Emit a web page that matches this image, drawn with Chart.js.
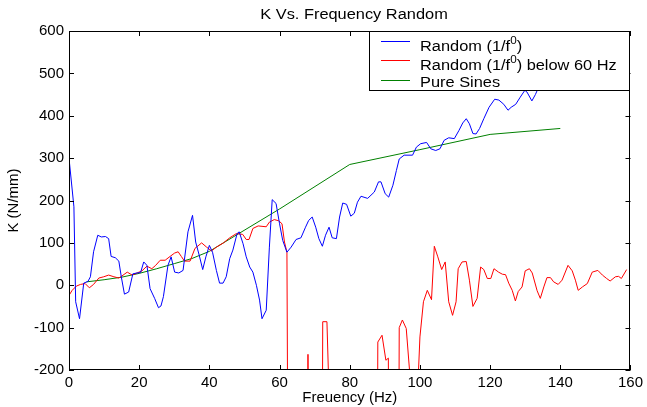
<!DOCTYPE html>
<html>
<head>
<meta charset="utf-8">
<script src="https://cdn.jsdelivr.net/npm/chart.js@4"></script>
<style>
  html, body { margin: 0; padding: 0; background: #fff; }
</style>
</head>
<body>
<canvas id="graficoK" width="647" height="407"></canvas>
<script>
// dati (Hz, N/mm)
const blueHz = [0, 1.4, 1.9, 3.0, 4.2, 5.4, 6.1, 7.0, 8.2, 9.2,
  10.4, 11.3, 12.0, 13.2, 14.2, 14.9, 15.8, 17.0, 18.2, 19.4,
  20.4, 21.3, 22.2, 23.1, 24.4, 25.5, 26.2, 26.9, 28.2, 29.1,
  30.1, 31.3, 32.5, 33.9, 35.2, 36.1, 37.1, 38.1, 39.0, 40.0,
  40.9, 42.0, 42.9, 43.9, 44.8, 45.8, 46.7, 47.9, 48.5, 49.6,
  50.5, 51.5, 52.4, 53.4, 54.3, 55.0, 56.2, 57.1, 57.9, 59.0,
  60.0, 60.9, 62.1, 63.3, 64.7, 66.1, 67.4, 68.3, 69.3, 70.3,
  71.2, 72.2, 73.1, 74.1, 75.0, 76.2, 77.1, 78.0, 79.1, 80.3,
  81.3, 82.2, 83.2, 85.1, 87.0, 88.2, 88.9, 90.1, 91.1, 92.3,
  93.3, 94.1, 95.5, 97.9, 99.0, 100.2, 101.9, 103.1, 104.5, 105.7,
  106.9, 108.2, 109.8, 111.1, 112.2, 113.2, 114.1, 115.1, 116.0, 117.0,
  118.2, 119.7, 121.3, 122.5, 123.9, 125.1, 126.0, 127.3, 128.6, 129.9,
  130.5, 131.9, 132.9, 133.7, 134.6];
const blueK = [300, 185, -39, -79, 5, 9, 20, 79, 118, 114,
  115, 110, 68, 65, 57, 20, -21, -16, 27, 29,
  30, 55, 47, -8, -31, -53, -49, -27, 47, 67,
  31, 29, 35, 126, 165, 102, 71, 37, 67, 94,
  78, 35, 5, 5, 20, 63, 83, 122, 126, 98,
  67, 43, 31, 0, -35, -79, -59, 90, 202, 193,
  145, 106, 78, 90, 108, 112, 137, 153, 161, 137,
  110, 92, 118, 137, 112, 110, 161, 194, 191, 163,
  170, 196, 210, 205, 220, 244, 244, 216, 208, 236,
  271, 298, 307, 307, 326, 334, 337, 322, 318, 322,
  342, 348, 346, 365, 383, 393, 381, 358, 357, 370,
  393, 420, 439, 437, 427, 413, 420, 427, 444, 460,
  456, 435, 450, 465, 485];

const redHz = [0, 0.9, 2.1, 3.3, 4.6, 5.8, 7.0, 8.5, 9.9, 11.3,
  12.8, 14.2, 15.1, 16.6, 18.0, 19.4, 20.8, 22.2, 23.6, 24.7,
  26.0, 27.4, 28.8, 30.1, 31.1, 32.0, 32.9, 34.5, 35.9, 37.8,
  39.2, 40.6, 42.0, 44.0, 45.8, 47.7, 49.5, 50.5, 51.3, 52.4,
  53.9, 56.2, 57.1, 58.5, 59.8, 60.7, 61.4, 62.1, 62.8, 67.9,
  68.1, 68.3, 71.9, 72.3, 73.5, 74.6, 87.5, 88.0, 89.2, 90.3,
  91.0, 91.5, 93.7, 94.1, 95.0, 96.1, 97.6, 98.2, 98.6, 99.3,
  100.0, 101.0, 102.1, 103.3, 104.1, 105.1, 106.2, 107.2, 108.2, 109.3,
  110.3, 110.9, 112.0, 113.2, 114.1, 115.1, 116.3, 117.3, 118.2, 119.2,
  120.2, 121.1, 122.4, 123.5, 124.4, 125.3, 126.3, 127.2, 128.0, 129.1,
  130.0, 131.2, 132.0, 133.4, 134.3, 135.3, 136.2, 137.2, 138.1, 139.4,
  140.5, 142.2, 143.4, 144.3, 145.1, 146.3, 147.7, 149.1, 150.7, 152.0,
  153.2, 154.2, 155.7, 156.6, 157.4, 158.9];
const redK = [-24, -12, -2, 2, 4, -6, 2, 17, 20, 24,
  20, 17, 22, 31, 24, 29, 34, 45, 39, 47,
  59, 59, 68, 76, 79, 68, 57, 57, 87, 100,
  90, 81, 90, 100, 112, 122, 120, 108, 108, 134,
  140, 138, 149, 155, 152, 145, 102, 78, -1200, -1200,
  -163, -1200, -1200, -86, -86, -400, -1200, -134, -118, -177,
  -172, -1200, -1200, -100, -82, -102, -260, -900, -900, -260,
  -122, -39, -12, -34, 92, 67, 37, 55, -39, -71,
  -39, 39, 55, 56, 12, -50, -31, 43, 37, 16,
  16, 39, 31, 26, 25, 5, -12, -37, -15, -4,
  34, 39, 29, -13, -31, -4, 18, 18, 8, 2,
  12, 47, 34, 12, -12, -4, 4, 31, 35, 24,
  16, 10, 20, 21, 16, 37];

const sineHz = [5, 10, 15, 20, 25, 30, 35, 40, 60, 80, 100, 120, 140];
const sineK = [8, 13, 19, 28, 39, 51, 63, 80, 180, 285, 320, 356, 370];

const xTicks = [0, 20, 40, 60, 80, 100, 120, 140, 160];
const yTicks = [-200, -100, 0, 100, 200, 300, 400, 500, 600];

const legendLabels = [
  ['Random (1/f', '0', ')'],
  ['Random (1/f', '0', ') below 60 Hz'],
  ['Pure Sines', '', '']
];
const colori = ['#0000ff', '#ff0000', '#008000'];

const FONT = '"Liberation Sans", Arial, Helvetica, sans-serif';

const punti = (xs, ys) => xs.map((f, i) => ({ x: f, y: ys[i] }));

// testo un po' allargato in orizzontale, come nell'originale
function scrivi(ctx, txt, x, y, size, align) {
  ctx.save();
  ctx.font = size + 'px ' + FONT;
  ctx.textAlign = align || 'left';
  ctx.textBaseline = 'alphabetic';
  ctx.translate(x, y);
  ctx.scale(1.17, 1);
  ctx.fillText(txt, 0, 0);
  const w = ctx.measureText(txt).width * 1.17;
  ctx.restore();
  return w;
}

const cornice = {
  id: 'cornice',
  afterDatasetsDraw(chart) {
    const { ctx, chartArea: a, scales: { x, y } } = chart;
    ctx.save();
    ctx.strokeStyle = '#000';
    ctx.lineWidth = 1;
    ctx.beginPath();
    xTicks.forEach(v => {
      const px = Math.round(x.getPixelForValue(v)) + 0.5;
      ctx.moveTo(px, a.bottom); ctx.lineTo(px, a.bottom - 5);
      ctx.moveTo(px, a.top); ctx.lineTo(px, a.top + 5);
    });
    yTicks.forEach(v => {
      const py = Math.round(y.getPixelForValue(v)) + 0.5;
      ctx.moveTo(a.left, py); ctx.lineTo(a.left + 5, py);
      ctx.moveTo(a.right, py); ctx.lineTo(a.right - 5, py);
    });
    ctx.stroke();
    ctx.strokeRect(Math.round(a.left) + 0.5, Math.round(a.top) + 0.5,
      Math.round(a.width) - 1, Math.round(a.height) - 1);

    // legenda (sopra le linee)
    const lx = 369, ly = Math.round(a.top), lw = Math.round(a.right) - lx, lh = 59;
    ctx.fillStyle = '#fff';
    ctx.fillRect(lx, ly, lw, lh);
    ctx.strokeRect(lx + 0.5, ly + 0.5, lw - 1, lh);
    const righe = [ly + 10, ly + 29, ly + 49];
    const basi = [ly + 20, ly + 39, ly + 56];
    legendLabels.forEach((lab, i) => {
      ctx.strokeStyle = colori[i];
      ctx.beginPath();
      ctx.moveTo(381, righe[i] + 0.5);
      ctx.lineTo(410, righe[i] + 0.5);
      ctx.stroke();
      ctx.fillStyle = '#000';
      let cx = 420;
      cx += scrivi(ctx, lab[0], cx, basi[i], 14);
      if (lab[1]) cx += scrivi(ctx, lab[1], cx, basi[i] - 7, 10);
      if (lab[2]) scrivi(ctx, lab[2], cx, basi[i], 14);
    });

    // titolo
    ctx.fillStyle = '#000';
    scrivi(ctx, 'K Vs. Frequency Random', 354, 19, 14, 'center');
    ctx.restore();
  }
};

new Chart(document.getElementById('graficoK'), {
  type: 'line',
  data: {
    datasets: [
      { label: 'Random (1/f0)', data: punti(blueHz, blueK), borderColor: colori[0] },
      { label: 'Random (1/f0) below 60 Hz', data: punti(redHz, redK), borderColor: colori[1] },
      { label: 'Pure Sines', data: punti(sineHz, sineK), borderColor: colori[2] }
    ]
  },
  options: {
    responsive: false,
    animation: false,
    events: [],
    elements: {
      line: { borderWidth: 1, tension: 0, fill: false },
      point: { radius: 0 }
    },
    layout: { padding: { top: 31, right: 15, left: 0, bottom: 0 } },
    plugins: { legend: { display: false }, tooltip: { enabled: false } },
    scales: {
      x: {
        type: 'linear', min: 0, max: 160,
        afterFit: s => { s.height = 37; },
        afterBuildTicks: s => { s.ticks = xTicks.map(v => ({ value: v })); },
        ticks: { color: '#000', font: { family: FONT, size: 15 }, padding: 4, maxRotation: 0 },
        grid: { display: false, drawTicks: false },
        border: { display: false },
        title: { display: true, text: 'Freuency (Hz)', color: '#000',
          font: { family: FONT, size: 15 }, padding: { top: 0, bottom: 0 } }
      },
      y: {
        type: 'linear', min: -200, max: 600,
        afterFit: s => { s.width = 69; },
        afterBuildTicks: s => { s.ticks = yTicks.map(v => ({ value: v })); },
        ticks: { color: '#000', font: { family: FONT, size: 15 }, padding: 5 },
        grid: { display: false, drawTicks: false },
        border: { display: false },
        title: { display: true, text: 'K (N/mm)', color: '#000',
          font: { family: FONT, size: 15 }, padding: { top: 5, bottom: 0 } }
      }
    }
  },
  plugins: [cornice]
});
</script>
</body>
</html>
